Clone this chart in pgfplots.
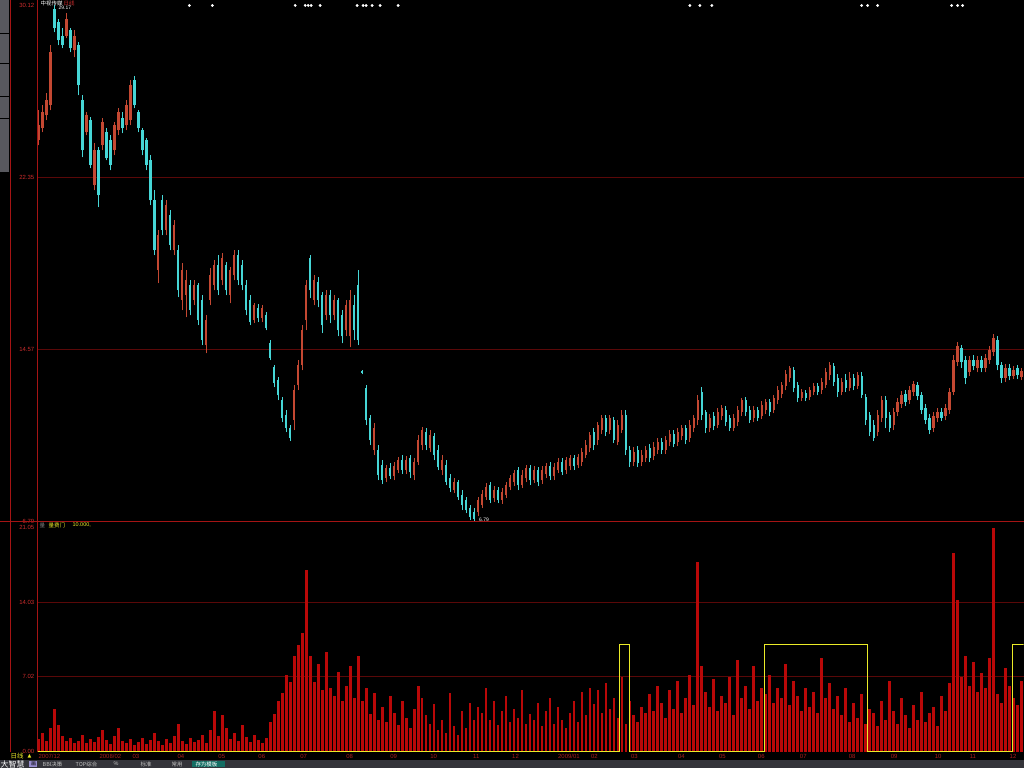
\documentclass[border=0pt]{standalone}
\usepackage{pgfplots}
\pgfplotsset{compat=1.18}
\usepackage{pgfplotstable}
\usepackage{fontspec}
\setmainfont{Liberation Sans}
\newfontfamily\cjk{Noto Sans CJK SC}
\newfontfamily\dejavu{DejaVu Sans}
\definecolor{upc}{RGB}{196,72,50}
\definecolor{dnc}{RGB}{70,214,214}
\definecolor{volc}{RGB}{185,8,8}
\definecolor{lblred}{RGB}{205,45,45}
\definecolor{datered}{RGB}{170,30,30}
\definecolor{gridred}{RGB}{90,8,8}
\definecolor{sepred}{RGB}{165,20,20}
\definecolor{yel}{RGB}{235,235,40}
\definecolor{tabgray}{RGB}{88,88,94}
\definecolor{barg}{RGB}{52,52,58}
\definecolor{lav}{RGB}{150,140,205}
\definecolor{tealbox}{RGB}{20,110,100}
\newcommand{\tk}{\fontsize{6}{6}\selectfont}
\pgfplotsset{candle/.style={only marks, mark=*, mark size=0pt, mark options={draw=none, fill=none}, forget plot}}
\pgfplotstableread{
x o h l c v
38 24.02 25.37 23.79 24.69 1.2
42 24.56 25.60 24.38 25.28 1.8
46 25.15 26.14 24.92 25.82 1.0
50 25.60 28.31 25.37 28.00 2.2
54 29.98 30.12 28.90 29.08 4.0
58 29.35 29.53 28.31 28.54 2.5
62 28.76 29.08 28.18 28.31 1.5
66 28.76 29.76 28.63 29.53 1.0
70 28.99 29.08 28.00 28.18 1.3
74 28.09 28.99 27.77 28.76 0.8
78 28.31 28.45 26.05 26.50 1.0
82 25.82 26.05 23.25 23.56 1.6
86 24.38 25.28 24.24 25.15 0.8
90 24.92 25.06 22.75 22.89 1.2
94 21.98 23.88 21.75 23.56 0.9
98 23.56 23.70 20.99 21.53 1.4
102 23.79 25.01 23.56 24.83 2.0
106 24.38 24.56 23.11 23.20 1.1
110 24.02 24.24 22.66 22.89 0.7
114 23.56 24.83 23.34 24.69 1.5
118 24.47 25.46 24.24 25.28 2.2
122 25.01 25.28 24.33 24.56 1.0
126 24.69 25.82 24.47 25.60 0.8
130 24.92 26.73 24.69 26.50 1.2
134 26.73 26.95 25.46 25.60 0.6
138 25.28 25.37 24.38 24.56 0.9
142 24.47 24.56 23.34 23.56 1.3
146 24.02 24.11 22.66 22.89 0.7
150 23.11 23.34 21.08 21.30 1.1
154 21.30 21.75 18.82 19.04 1.8
158 18.14 19.95 17.55 19.72 1.0
162 21.30 21.53 19.72 19.95 0.6
166 19.95 21.30 19.72 21.08 1.2
170 20.62 20.85 19.04 19.27 0.8
174 19.04 20.40 18.82 20.17 1.5
178 19.04 19.27 16.92 17.23 2.6
182 16.78 18.45 16.33 18.14 1.0
186 17.01 18.14 16.01 17.68 0.7
190 17.46 17.68 16.10 16.33 1.3
194 16.78 17.68 16.55 17.46 0.9
198 17.46 17.55 15.65 15.88 1.1
202 16.78 17.01 14.75 14.97 1.6
206 14.75 16.10 14.38 15.88 0.8
210 16.78 18.23 16.55 17.91 2.0
214 17.46 18.59 17.23 18.36 3.8
218 18.36 18.82 17.01 17.23 1.5
222 17.68 18.91 17.46 18.68 3.4
226 18.36 18.50 17.01 17.23 2.2
230 17.01 18.27 16.64 18.14 1.2
234 17.91 19.04 17.68 18.82 1.8
238 18.82 19.04 17.46 17.68 1.0
242 18.36 18.59 17.23 17.46 2.5
246 17.46 17.68 16.10 16.33 1.4
250 16.78 17.01 15.65 15.79 0.9
254 15.88 16.64 15.74 16.55 1.6
258 16.42 16.60 15.79 15.97 1.1
262 15.97 16.55 15.79 16.42 0.8
266 16.10 16.24 15.42 15.51 1.3
270 14.83 14.97 14.07 14.16 2.8
274 13.75 13.84 12.85 13.03 3.5
278 13.16 13.30 12.26 12.48 4.8
282 12.26 12.39 11.26 11.44 5.5
286 11.58 11.81 10.81 10.99 7.2
290 10.99 11.13 10.40 10.54 6.5
294 11.35 12.94 10.90 12.71 9.0
298 12.94 14.07 12.71 13.84 10.0
302 13.84 15.65 13.61 15.42 11.1
306 15.88 17.68 15.42 17.46 17.0
310 18.68 18.82 16.87 17.23 9.0
314 16.78 17.91 16.55 17.68 6.5
318 17.59 17.82 16.46 16.78 8.2
322 17.01 17.14 15.29 15.65 5.8
326 16.10 17.23 15.88 17.01 9.3
330 17.01 17.23 15.74 16.10 6.0
334 16.10 17.01 15.88 16.78 5.2
338 16.78 16.87 15.15 15.42 7.5
342 16.10 16.33 14.83 15.15 4.8
346 15.42 16.78 15.15 16.55 6.2
350 15.15 17.23 14.65 16.78 8.0
354 16.55 17.01 14.97 15.42 5.0
358 17.46 18.14 14.75 14.97 9.0
362 13.57 13.61 13.43 13.48 4.8
366 12.80 12.94 11.13 11.35 6.0
370 11.44 11.58 10.22 10.45 3.5
374 10.00 11.22 9.77 10.99 5.5
378 10.00 10.22 8.64 8.87 3.0
382 9.32 9.54 8.46 8.64 4.2
386 8.73 9.32 8.55 9.18 2.8
390 9.18 9.41 8.69 8.82 5.2
394 8.82 9.45 8.64 9.27 3.6
398 9.09 9.68 8.96 9.54 2.5
402 9.54 9.77 8.91 9.09 4.8
406 9.09 9.72 8.91 9.54 3.2
410 9.63 9.77 8.73 9.00 2.2
414 8.87 9.63 8.64 9.45 4.0
418 9.45 10.67 9.32 10.45 6.2
422 10.22 11.04 10.00 10.90 5.0
426 10.81 10.99 10.00 10.22 3.4
430 10.09 10.90 9.91 10.67 2.6
434 10.63 10.77 9.54 9.77 4.5
438 10.00 10.22 9.09 9.23 2.0
442 9.09 9.77 8.87 9.54 3.0
446 9.32 9.54 8.41 8.55 1.8
450 8.73 8.91 8.10 8.28 5.5
454 8.19 8.73 8.05 8.55 2.4
458 8.55 8.64 7.74 7.87 1.6
462 7.96 8.19 7.28 7.51 3.8
466 7.74 7.87 7.15 7.28 2.2
470 7.37 7.51 6.83 6.97 4.6
474 7.19 7.37 6.79 6.88 3.0
478 7.19 7.87 7.01 7.74 4.2
482 7.51 8.19 7.37 8.01 3.6
486 7.87 8.51 7.74 8.32 6.0
490 8.41 8.55 7.60 7.74 3.0
494 7.83 8.37 7.65 8.19 4.8
498 8.19 8.32 7.60 7.74 2.5
502 7.74 8.28 7.56 8.10 3.8
506 7.96 8.55 7.83 8.41 5.2
510 8.32 8.87 8.19 8.73 2.8
514 8.55 9.09 8.37 8.96 4.0
518 9.09 9.23 8.19 8.41 3.2
522 8.41 9.09 8.28 8.87 5.8
526 8.73 9.32 8.55 9.18 2.6
530 9.18 9.32 8.41 8.64 3.5
534 8.64 9.27 8.51 9.09 3.0
538 9.09 9.23 8.37 8.55 4.6
542 8.64 9.27 8.46 9.09 2.4
546 8.91 9.41 8.73 9.27 3.8
550 9.27 9.45 8.64 8.82 5.0
554 8.82 9.41 8.64 9.23 2.6
558 9.09 9.63 8.96 9.45 4.2
562 9.45 9.63 8.87 9.00 3.0
566 9.09 9.68 8.91 9.54 2.2
570 9.27 9.77 9.09 9.63 3.6
574 9.63 9.77 9.09 9.27 4.8
578 9.32 9.82 9.18 9.68 2.8
582 9.45 10.09 9.27 9.91 5.6
586 9.77 10.45 9.63 10.22 3.4
590 10.09 10.81 9.91 10.67 6.0
594 10.81 10.99 10.00 10.22 4.5
598 10.45 11.26 10.22 11.13 5.8
602 10.90 11.58 10.72 11.44 3.6
606 11.44 11.58 10.63 10.81 6.4
610 10.90 11.58 10.72 11.44 4.0
614 11.35 11.49 10.31 10.45 5.0
618 10.36 11.35 10.22 11.13 3.2
622 10.90 11.81 10.77 11.58 7.0
626 11.58 11.81 9.77 10.00 2.6
630 10.00 10.18 9.23 9.45 4.8
634 9.45 10.13 9.27 9.91 3.4
638 10.00 10.18 9.23 9.41 2.8
642 9.45 10.00 9.27 9.77 4.2
646 9.63 10.18 9.45 10.00 3.6
650 10.09 10.27 9.45 9.63 5.4
654 9.72 10.36 9.54 10.13 3.8
658 10.00 10.54 9.82 10.36 6.2
662 10.36 10.54 9.82 10.00 4.6
666 10.00 10.63 9.82 10.45 3.2
670 10.36 10.90 10.18 10.72 5.8
674 10.72 10.90 10.13 10.27 4.0
678 10.36 10.99 10.18 10.81 6.6
682 10.63 11.13 10.45 10.99 3.6
686 10.99 11.13 10.27 10.45 5.0
690 10.54 11.35 10.36 11.13 7.2
694 10.99 11.58 10.81 11.44 4.4
698 11.35 12.48 11.13 12.26 17.8
702 12.62 12.85 11.35 11.58 8.0
706 11.72 11.81 10.77 10.99 5.6
710 10.99 11.63 10.81 11.44 4.2
714 11.53 11.72 10.90 11.08 6.8
718 11.13 11.90 10.99 11.72 3.8
722 11.53 12.03 11.35 11.90 5.2
726 11.81 11.99 11.08 11.26 4.6
730 11.44 11.58 10.86 10.99 7.0
734 10.99 11.63 10.86 11.44 3.4
738 11.26 11.99 11.08 11.81 8.6
742 11.72 12.35 11.53 12.26 5.0
746 12.26 12.39 11.53 11.72 6.2
750 11.81 11.99 11.22 11.35 4.0
754 11.44 11.99 11.26 11.81 8.0
758 11.81 11.94 11.31 11.44 4.8
762 11.53 12.21 11.40 12.03 6.0
766 11.81 12.30 11.63 12.17 5.4
770 12.17 12.30 11.53 11.72 7.2
774 11.81 12.48 11.67 12.35 4.6
778 12.26 12.89 12.08 12.71 6.0
782 12.53 13.07 12.35 12.94 5.0
786 12.89 13.61 12.71 13.43 8.2
790 13.25 13.80 13.07 13.71 4.4
794 13.61 13.75 12.62 12.80 6.6
798 12.94 13.07 12.17 12.35 5.2
802 12.35 12.76 12.21 12.62 3.8
806 12.58 12.71 12.21 12.35 6.0
810 12.39 12.85 12.26 12.71 4.2
814 12.62 13.03 12.48 12.89 5.6
818 12.89 13.03 12.48 12.62 3.6
822 12.71 13.25 12.53 13.07 8.8
826 12.94 13.71 12.80 13.52 5.0
830 13.39 13.98 13.16 13.84 6.4
834 13.80 13.93 12.89 13.07 4.0
838 13.25 13.43 12.39 12.62 5.2
842 12.62 13.25 12.48 13.07 3.4
846 13.16 13.43 12.62 12.80 6.0
850 12.80 13.52 12.67 13.25 2.8
854 13.25 13.43 12.71 12.89 4.6
858 12.89 13.52 12.76 13.39 3.2
862 13.34 13.52 12.35 12.48 5.4
866 12.39 12.53 11.13 11.35 2.6
870 11.58 11.72 10.63 10.81 4.0
874 11.13 11.35 10.40 10.54 3.6
878 10.81 11.81 10.63 11.58 2.4
882 11.44 12.44 11.26 12.26 4.8
886 12.26 12.44 10.99 11.44 3.0
890 11.58 11.72 10.81 10.99 6.6
894 11.13 11.90 10.90 11.72 3.8
898 11.72 12.35 11.53 12.17 2.6
902 12.08 12.67 11.90 12.48 5.0
906 12.53 12.71 11.99 12.17 3.4
910 12.26 12.89 12.08 12.71 2.2
914 12.62 13.12 12.44 12.98 4.4
918 12.94 13.07 12.26 12.44 3.0
922 12.48 12.62 11.63 11.81 5.6
926 11.90 12.08 11.17 11.35 2.8
930 11.44 11.63 10.72 10.90 3.6
934 10.99 11.72 10.81 11.53 4.2
938 11.44 11.90 11.26 11.72 2.4
942 11.72 11.90 11.31 11.44 5.2
946 11.53 12.08 11.35 11.90 3.8
950 11.81 12.80 11.63 12.62 6.4
954 12.62 14.29 12.48 14.07 18.6
958 13.98 14.88 13.80 14.70 14.2
962 14.61 14.75 13.71 13.98 7.0
966 14.07 14.25 12.98 13.25 9.0
970 13.52 14.25 13.34 14.07 6.2
974 14.07 14.29 13.61 13.80 8.4
978 13.71 14.25 13.52 14.07 5.6
982 14.07 14.25 13.52 13.71 7.4
986 13.71 14.34 13.52 14.16 6.0
990 14.07 14.70 13.89 14.52 8.8
994 14.43 15.24 14.25 15.06 21.0
998 14.97 15.15 13.61 13.84 5.4
1002 13.84 13.98 13.03 13.25 4.6
1006 13.25 13.89 13.07 13.71 7.8
1010 13.71 13.89 13.16 13.34 6.2
1014 13.34 13.80 13.21 13.61 5.0
1018 13.71 13.84 13.21 13.39 4.4
1022 13.30 13.71 13.16 13.57 6.6
}\kdata
\begin{document}
\begin{tikzpicture}
\begin{scope}[x=1bp,y=1bp]
\useasboundingbox (0,0) rectangle (1024,768);
\fill[black] (0,0) rectangle (1024,768);
% left tab strip
\fill[tabgray] (0,768) rectangle (9,596);
\foreach \yy in {735,705,672,650} {\draw[black, line width=0.8bp] (0,\yy) -- (9,\yy);}
\end{scope}
% price panel
\begin{axis}[at={(37bp,247bp)}, anchor=south west, scale only axis,
  width=987bp, height=521bp, xmin=37, xmax=1024, ymin=6.79, ymax=30.346,
  axis line style={draw=none}, tick style={draw=none}, major tick length=0pt,
  xtick=\empty,
  ytick={14.57,22.35}, yticklabels={14.57,22.35},
  extra y ticks={6.79,30.12}, extra y tick labels={6.79,30.12},
  extra y tick style={grid=none},
  ymajorgrids, grid style={gridred, line width=0.7bp},
  yticklabel style={font=\tk, text=lblred, inner sep=0pt, xshift=-3bp}]
% wicks
\addplot[upc, candle,
  restrict expr to domain={\thisrow{c}-\thisrow{o}}{0:100},
  error bars/.cd, y dir=plus, y explicit, error mark=none,
  error bar style={draw=upc, line width=0.9bp}]
  table[x=x, y=l, y error plus expr=\thisrow{h}-\thisrow{l}]{\kdata};
\addplot[dnc, candle,
  restrict expr to domain={\thisrow{c}-\thisrow{o}}{-100:-0.0001},
  error bars/.cd, y dir=plus, y explicit, error mark=none,
  error bar style={draw=dnc, line width=0.9bp}]
  table[x=x, y=l, y error plus expr=\thisrow{h}-\thisrow{l}]{\kdata};
% bodies
\addplot[upc, candle,
  restrict expr to domain={\thisrow{c}-\thisrow{o}}{0:100},
  error bars/.cd, y dir=plus, y explicit, error mark=none,
  error bar style={draw=upc, line width=2.3bp}]
  table[x=x, y=o, y error plus expr=\thisrow{c}-\thisrow{o}]{\kdata};
\addplot[dnc, candle,
  restrict expr to domain={\thisrow{c}-\thisrow{o}}{-100:-0.0001},
  error bars/.cd, y dir=plus, y explicit, error mark=none,
  error bar style={draw=dnc, line width=2.3bp}]
  table[x=x, y=c, y error plus expr=\thisrow{o}-\thisrow{c}]{\kdata};
% info markers at the top
\addplot[only marks, mark=*, mark size=1.2bp, white, mark options={draw=white, fill=white}]
  coordinates {(189,30.12) (212,30.12) (295,30.12) (305,30.12) (308,30.12) (311,30.12) (320,30.12)
  (357,30.12) (363,30.12) (366,30.12) (372,30.12) (380,30.12) (398,30.12) (690,30.12) (700,30.12)
  (712,30.12) (862,30.12) (868,30.12) (878,30.12) (952,30.12) (958,30.12) (963,30.12)};
\end{axis}
% volume panel
\begin{axis}[at={(37bp,16bp)}, anchor=south west, scale only axis,
  width=987bp, height=225bp, xmin=37, xmax=1024, ymin=0, ymax=21.05,
  axis line style={draw=none}, tick style={draw=none}, major tick length=0pt,
  xtick={38,99,132,177,218,258,300,346,390,430,473,512,558,591,631,678,719,758,800,849,891,935,970,1010},
  xticklabels={2007/12,2008/02,03,04,05,06,07,08,09,10,11,12,2009/01,02,03,04,05,06,07,08,09,10,11,12},
  xticklabel style={font=\tk, text=datered, anchor=north west, inner sep=0pt, yshift=-2.5bp},
  ytick={7.02,14.03}, yticklabels={7.02,14.03},
  extra y ticks={0,21.05}, extra y tick labels={0.00,21.05},
  extra y tick style={grid=none},
  ymajorgrids, grid style={gridred, line width=0.7bp},
  yticklabel style={font=\tk, text=lblred, inner sep=0pt, xshift=-3bp}]
\addplot[ycomb, volc, line width=2.8bp, mark=none] table[x=x, y=v]{\kdata};
\addplot[yel, line width=1bp, const plot, mark=none]
  coordinates {(37,0) (620,10) (630,0) (765,10) (868,0) (1013,10) (1024,10)};
\end{axis}
\begin{scope}[x=1bp,y=1bp]
% frame lines
\draw[sepred, line width=1bp] (0,246.5) -- (1024,246.5);
\draw[sepred, line width=1bp] (10,16) -- (10,768);
\draw[sepred, line width=1bp] (37.5,16) -- (37.5,768);
% header texts
\node[anchor=west, inner sep=0pt, text=white, font=\cjk\fontsize{5.5}{5.5}\selectfont] at (40,765) {中视传媒};
\node[anchor=west, inner sep=0pt, text=lblred, font=\cjk\fontsize{5.5}{5.5}\selectfont] at (63,765) {日线};
\node[anchor=west, inner sep=0pt, text=white, font=\fontsize{5}{5}\selectfont] at (58,760.5) {29.17};
\node[anchor=west, inner sep=0pt, text=white, font=\fontsize{5}{5}\selectfont] at (479,248.5) {6.79};
\node[anchor=west, inner sep=0pt, text=gray, font=\cjk\fontsize{5.5}{5.5}\selectfont] at (39,243) {量};
\node[anchor=west, inner sep=0pt, text=yel, font=\cjk\fontsize{5.5}{5.5}\selectfont] at (48,243) {量费门};
\node[anchor=west, inner sep=0pt, text=yel, font=\fontsize{5.5}{5.5}\selectfont] at (72,243) {10.000,};
% bottom-left and toolbar
\node[anchor=west, inner sep=0pt, text=yel, font=\cjk\fontsize{6.5}{6.5}\selectfont] at (10,11.5) {日线};
\node[anchor=west, inner sep=0pt, text=yel, font=\dejavu\fontsize{5}{5}\selectfont] at (27,12) {▲};
\fill[barg] (0,0) rectangle (1024,7.5);
\node[anchor=west, inner sep=0pt, text=white, font=\cjk\fontsize{8}{8}\selectfont] at (0,3.5) {大智慧};
\fill[lav] (29,0.5) rectangle (37,7);
\node[anchor=west, inner sep=0pt, text=black, font=\cjk\fontsize{5}{5}\selectfont] at (30.5,3.8) {画};
\node[anchor=west, inner sep=0pt, text=lightgray, font=\cjk\fontsize{5.5}{5.5}\selectfont] at (42,3.8) {BBI决策};
\node[anchor=west, inner sep=0pt, text=lightgray, font=\cjk\fontsize{5.5}{5.5}\selectfont] at (75,3.8) {TOP综合};
\node[anchor=west, inner sep=0pt, text=lightgray, font=\fontsize{5.5}{5.5}\selectfont] at (113,3.8) {\%};
\node[anchor=west, inner sep=0pt, text=lightgray, font=\cjk\fontsize{5.5}{5.5}\selectfont] at (140,3.8) {标准};
\node[anchor=west, inner sep=0pt, text=lightgray, font=\cjk\fontsize{5.5}{5.5}\selectfont] at (171,3.8) {常用};
\fill[tealbox] (192,0.5) rectangle (225,7);
\node[anchor=west, inner sep=0pt, text=white, font=\cjk\fontsize{5.5}{5.5}\selectfont] at (195,3.8) {存为模板};
\end{scope}
\end{tikzpicture}
\end{document}
